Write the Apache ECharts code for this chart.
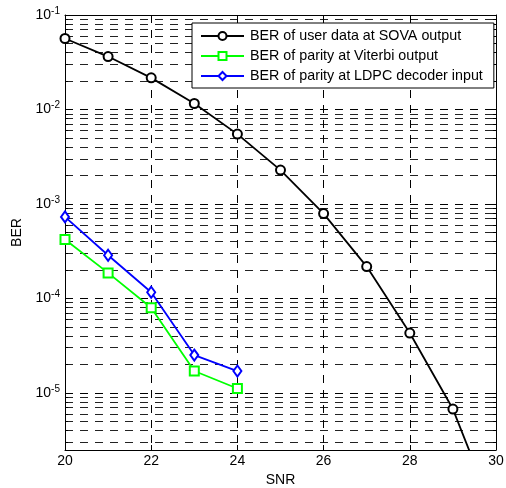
<!DOCTYPE html>
<html>
<head>
<meta charset="utf-8">
<script src="https://cdn.jsdelivr.net/npm/echarts@6/dist/echarts.min.js"></script>
<style>html,body{margin:0;padding:0;background:#fff;}#c{width:506px;height:488px;}</style>
</head>
<body>
<div id="c"></div>
<script>
var snr = [20, 21, 22, 23, 24, 25, 26, 27, 28, 29, 30];
var berSova = [0.0564, 0.0363, 0.0216, 0.01156, 0.00548, 0.00228, 0.00079, 0.000217, 0.0000429, 0.00000673, 0.00000047];
var snrParity = [20, 21, 22, 23, 24];
var berViterbi = [0.00042, 0.000186, 0.0000796, 0.0000170, 0.0000111];
var berLdpc = [0.000728, 0.000286, 0.000116, 0.0000251, 0.0000170];
var seriesNames = ['BER of user data at SOVA output', 'BER of parity at Viterbi output', 'BER of parity at LDPC decoder input'];
var yMajor = [1e-5, 1e-4, 1e-3, 1e-2, 1e-1];
var yMinor = [3e-6, 4e-6, 5e-6, 6e-6, 7e-6, 8e-6, 9e-6,
  2e-5, 3e-5, 4e-5, 5e-5, 6e-5, 7e-5, 8e-5, 9e-5,
  2e-4, 3e-4, 4e-4, 5e-4, 6e-4, 7e-4, 8e-4, 9e-4,
  2e-3, 3e-3, 4e-3, 5e-3, 6e-3, 7e-3, 8e-3, 9e-3,
  2e-2, 3e-2, 4e-2, 5e-2, 6e-2, 7e-2, 8e-2, 9e-2];
var yMin = 2.48e-6, yMax = 0.1;

function pairs(xs, ys) { return xs.map(function (x, i) { return [x, ys[i]]; }); }
var font = "'Liberation Sans', Arial, sans-serif";
var dash = [8, 7];
function yAx(pos, ticks, len, opts) {
  var a = {
    type: 'log', position: pos, min: yMin, max: yMax, logBase: 10,
    axisLine: { show: false },
    axisTick: { show: true, inside: true, length: len, customValues: ticks, lineStyle: { color: '#000', width: 1 } },
    axisLabel: { show: false },
    splitLine: { show: false },
    minorTick: { show: false }
  };
  for (var k in opts) a[k] = opts[k];
  return a;
}
var chart = echarts.init(document.getElementById('c'), null, { renderer: 'canvas' });
chart.setOption({
  animation: false,
  backgroundColor: '#fff',
  textStyle: { fontFamily: font },
  grid: { left: 65, top: 15, right: 10, bottom: 38, containLabel: false, outerBoundsMode: 'none' },
  legend: {
    data: seriesNames,
    orient: 'vertical', left: 192, top: 23,
    backgroundColor: '#fff', borderColor: '#000', borderWidth: 1, borderRadius: 0,
    padding: [6, 11, 5, 8], itemWidth: 43, itemHeight: 10, itemGap: 6,
    textStyle: { fontSize: 14.3, color: '#000', fontFamily: font, padding: [0, 0, 0, 1] }
  },
  xAxis: [
    {
      type: 'value', position: 'bottom', min: 20, max: 30, interval: 2,
      name: 'SNR', nameLocation: 'middle', nameGap: 20,
      nameTextStyle: { fontSize: 14, color: '#000', fontFamily: font },
      axisLine: { show: true, onZero: false, lineStyle: { color: '#000', width: 1 } },
      axisTick: { show: true, inside: true, length: 5, lineStyle: { color: '#000' } },
      axisLabel: { fontSize: 14, color: '#000', margin: 4, fontFamily: font },
      splitLine: { show: true, lineStyle: { color: '#000', type: dash, width: 1 } }
    },
    {
      type: 'value', position: 'top', min: 20, max: 30, interval: 2,
      axisLine: { show: true, onZero: false, lineStyle: { color: '#000', width: 1 } },
      axisTick: { show: true, inside: true, length: 5, lineStyle: { color: '#000' } },
      axisLabel: { show: false },
      splitLine: { show: false }
    }
  ],
  yAxis: [
    yAx('left', yMajor, 5, {
      name: 'BER', nameLocation: 'middle', nameGap: 37, nameRotate: 90,
      nameTextStyle: { fontSize: 14, color: '#000', fontFamily: font },
      axisLine: { show: true, onZero: false, lineStyle: { color: '#000', width: 1 } },
      axisLabel: {
        show: true, margin: 5, customValues: yMajor,
        formatter: function (v) {
          var e = Math.round(Math.log(v) / Math.LN10);
          return '{b|10}{s|' + e + '}';
        },
        rich: {
          b: { fontSize: 14, color: '#000', fontFamily: font },
          s: { fontSize: 10, color: '#000', fontFamily: font, padding: [0, 0, 8, 0] }
        }
      },
      splitLine: { show: true, lineStyle: { color: '#000', type: dash, width: 1 } }
    }),
    yAx('left', yMinor, 3, {
      splitLine: { show: true, lineStyle: { color: '#222', type: dash, width: 1 } }
    }),
    yAx('right', yMajor, 5, {
      axisLine: { show: true, onZero: false, lineStyle: { color: '#000', width: 1 } }
    }),
    yAx('right', yMinor, 3, {})
  ],
  series: [
    {
      name: seriesNames[0], type: 'line', xAxisIndex: 0, yAxisIndex: 0,
      data: pairs(snr, berSova), clip: true,
      symbol: 'emptyCircle', symbolSize: 9, showAllSymbol: true,
      lineStyle: { color: '#000', width: 1.8 },
      itemStyle: { color: '#000', borderWidth: 1.8 },
      z: 3
    },
    {
      name: seriesNames[1], type: 'line', xAxisIndex: 0, yAxisIndex: 0,
      data: pairs(snrParity, berViterbi), clip: true,
      symbol: 'emptyRect', symbolSize: 9, showAllSymbol: true,
      lineStyle: { color: '#00ff00', width: 1.8 },
      itemStyle: { color: '#00ff00', borderWidth: 1.8 },
      z: 3
    },
    {
      name: seriesNames[2], type: 'line', xAxisIndex: 0, yAxisIndex: 0,
      data: pairs(snrParity, berLdpc), clip: true,
      symbol: 'emptyDiamond', symbolSize: [8, 11], showAllSymbol: true,
      lineStyle: { color: '#0000ff', width: 1.8 },
      itemStyle: { color: '#0000ff', borderWidth: 1.8 },
      z: 3
    }
  ]
});
</script>
</body>
</html>
